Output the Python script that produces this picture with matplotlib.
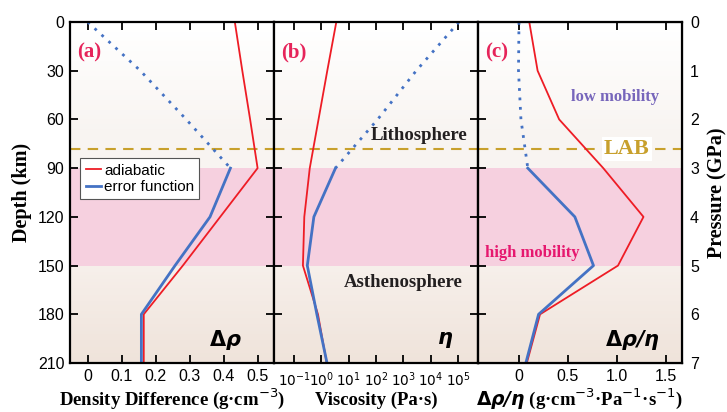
import numpy as np
import matplotlib
matplotlib.use("Agg")
import matplotlib.pyplot as plt
from matplotlib.ticker import FixedLocator, FixedFormatter

# depth levels (km)
depth = [0, 30, 60, 90, 120, 150, 180, 210]
depthTop = [0, 30, 60, 90]
depthBot = [90, 120, 150, 180, 210]

# (a) density difference, g/cm3
rhoAdiabatic = [0.433, 0.455, 0.478, 0.50, 0.39, 0.28, 0.165, 0.165]
rhoErfTop = [0.0, 0.155, 0.29, 0.42]
rhoErfBot = [0.42, 0.36, 0.257, 0.158, 0.158]

# (b) viscosity, log10(Pa s)
etaAdiabaticLog = [0.55, 0.22, -0.10, -0.42, -0.62, -0.67, -0.12, 0.20]
etaErfTopLog = [5.03, 3.47, 2.06, 0.52]
etaErfBotLog = [0.52, -0.27, -0.51, -0.16, 0.21]

# (c) mobility
mobAdiabatic = [0.105, 0.19, 0.41, 0.86, 1.27, 1.01, 0.215, 0.08]
mobErfTop = [0.0, -0.005, 0.02, 0.09]
mobErfBot = [0.09, 0.57, 0.76, 0.20, 0.07]

depthTicks = [0, 30, 60, 90, 120, 150, 180, 210]
pressureTicks = [0, 1, 2, 3, 4, 5, 6, 7]
labDepth = 78

RED = "#ee1c25"
BLUE = "#4472c4"
PINK = "#e6186f"
LABEL = "#e6245a"
GOLD = "#c8a02c"
SERIF = ["Liberation Serif", "DejaVu Serif"]
SANS = ["Liberation Sans", "DejaVu Sans"]

plt.rcParams["font.family"] = SANS
plt.rcParams["mathtext.fontset"] = "dejavusans"

fig = plt.figure(figsize=(7.27, 4.12), dpi=100)
gs = fig.add_gridspec(1, 3, left=0.0963, right=0.9377, top=0.9466,
                      bottom=0.1189, wspace=0)
axA = fig.add_subplot(gs[0])
axB = fig.add_subplot(gs[1], sharey=axA)
axC = fig.add_subplot(gs[2], sharey=axA)


def shade(ax):
    # faint gradient for lithosphere / asthenosphere, pink band between
    top0 = np.array([1.0, 1.0, 1.0])
    top1 = np.array([0.972, 0.957, 0.945])
    bot0 = np.array([0.965, 0.937, 0.918])
    bot1 = np.array([0.937, 0.890, 0.855])
    n = 30
    for i in range(n):
        f = i / (n - 1)
        c = top0 + (top1 - top0) * min(1, f * 1.3)
        ax.axhspan(90 * i / n, 90 * (i + 1) / n, color=c, lw=0, zorder=0)
        c = bot0 + (bot1 - bot0) * f
        ax.axhspan(150 + 60 * i / n, 150 + 60 * (i + 1) / n, color=c, lw=0, zorder=0)
    ax.axhspan(90, 150, color="#f6d0df", lw=0, zorder=0)
    ax.axhline(labDepth, color=GOLD, ls=(0, (5, 3.5)), lw=1.5, zorder=1)


for ax in (axA, axB, axC):
    shade(ax)

# (a)
axA.plot(rhoAdiabatic, depth, color=RED, lw=1.3, label="adiabatic", zorder=3)
axA.plot(rhoErfBot, depthBot, color=BLUE, lw=2, label="error function", zorder=3)
axA.plot(rhoErfTop, depthTop, color=BLUE, lw=2, ls=(0, (1, 2.4)), zorder=3)
axA.set_xlim(-0.052, 0.548)
axA.set_xticks([0, 0.1, 0.2, 0.3, 0.4, 0.5])
axA.set_xticklabels(["0", "0.1", "0.2", "0.3", "0.4", "0.5"])

# (b)
axB.plot(10.0 ** np.array(etaAdiabaticLog), depth, color=RED, lw=1.3, zorder=3)
axB.plot(10.0 ** np.array(etaErfBotLog), depthBot, color=BLUE, lw=2, zorder=3)
axB.plot(10.0 ** np.array(etaErfTopLog), depthTop, color=BLUE, lw=2,
         ls=(0, (1, 2.4)), zorder=3)
axB.set_xscale("log")
axB.set_xlim(10 ** -1.73, 10 ** 5.72)
decades = [-1, 0, 1, 2, 3, 4, 5]
axB.xaxis.set_major_locator(FixedLocator([10.0 ** d for d in decades]))
axB.xaxis.set_major_formatter(FixedFormatter([r"$10^{%d}$" % d for d in decades]))
axB.xaxis.set_minor_locator(FixedLocator([]))

# (c)
axC.plot(mobAdiabatic, depth, color=RED, lw=1.3, zorder=3)
axC.plot(mobErfBot, depthBot, color=BLUE, lw=2, zorder=3)
axC.plot(mobErfTop, depthTop, color=BLUE, lw=2, ls=(0, (1, 2.4)), zorder=3)
axC.set_xlim(-0.42, 1.66)
axC.set_xticks([0, 0.5, 1.0, 1.5])
axC.set_xticklabels(["0", "0.5", "1.0", "1.5"])

axA.set_ylim(210, 0)
axA.set_yticks(depthTicks)

for ax in (axA, axB, axC):
    for s in ax.spines.values():
        s.set_linewidth(1.6)
        s.set_zorder(5)
    ax.tick_params(direction="in", top=True, right=True, length=6, width=1.3,
                   labelsize=11.5, pad=4)
axB.tick_params(axis="x", labelsize=9.8, pad=5)
axB.tick_params(labelleft=False)
axC.tick_params(labelleft=False)

# pressure axis
axP = axC.twinx()
axP.set_ylim(7, 0)
axP.set_yticks(pressureTicks)
axP.tick_params(direction="in", length=0, labelsize=11.5, pad=6)
axP.set_ylabel("Pressure (GPa)", fontfamily=SERIF, fontweight="bold",
               fontsize=14.5, labelpad=6)

axA.set_ylabel("Depth (km)", fontfamily=SERIF, fontweight="bold", fontsize=14.5,
               labelpad=4)
axA.set_xlabel(r"Density Difference (g·cm$^{-3}$)", fontfamily=SERIF,
               fontweight="bold", fontsize=13.5, labelpad=2)
axB.set_xlabel("Viscosity (Pa·s)", fontfamily=SERIF, fontweight="bold",
               fontsize=13.5, labelpad=2)
axC.set_xlabel(r"$\mathbf{\Delta}\mathbfit{\rho/\eta}$ (g·cm$^{-3}$·Pa$^{-1}$·s$^{-1}$)",
               fontfamily=SERIF, fontweight="bold", fontsize=13.5, labelpad=2)

# panel tags
for ax, tag in ((axA, "(a)"), (axB, "(b)"), (axC, "(c)")):
    ax.text(0.035, 0.91, tag, transform=ax.transAxes, color=LABEL,
            fontfamily=SERIF, fontweight="bold", fontsize=15, va="center",
            ha="left", zorder=6)

axA.text(0.76, 0.067, r"$\mathbf{\Delta}\mathbfit{\rho}$", transform=axA.transAxes,
         fontsize=15, ha="center", va="center", zorder=6)
axB.text(0.84, 0.067, r"$\mathbfit{\eta}$", transform=axB.transAxes,
         fontsize=15, ha="center", va="center", zorder=6)
axC.text(0.76, 0.067, r"$\mathbf{\Delta}\mathbfit{\rho/\eta}$",
         transform=axC.transAxes, fontsize=15, ha="center", va="center", zorder=6)

axB.text(0.71, 69.6, "Lithosphere", transform=axB.get_yaxis_transform(),
         fontfamily=SERIF, fontweight="bold", fontsize=13.5, ha="center",
         va="center", color="#231f20", zorder=6)
axB.text(0.634, 160.5, "Asthenosphere", transform=axB.get_yaxis_transform(),
         fontfamily=SERIF, fontweight="bold", fontsize=13.5, ha="center",
         va="center", color="#231f20", zorder=6)
axC.text(0.675, 46, "low mobility", transform=axC.get_yaxis_transform(),
         fontfamily=SERIF, fontweight="bold", fontsize=12, ha="center",
         va="center", color="#7766bb", zorder=6)
axC.text(0.265, 142, "high mobility", transform=axC.get_yaxis_transform(),
         fontfamily=SERIF, fontweight="bold", fontsize=12, ha="center",
         va="center", color=PINK, zorder=6)
axC.text(0.73, labDepth, "LAB", transform=axC.get_yaxis_transform(),
         fontfamily=SERIF, fontweight="bold", fontsize=16, ha="center",
         va="center", color=GOLD, zorder=6,
         bbox=dict(facecolor="white", edgecolor="none", pad=1.5))

leg = axA.legend(loc="upper left", bbox_to_anchor=(0.05, 0.60), borderaxespad=0,
                 fontsize=11, handlelength=1.0, handletextpad=0.2,
                 labelspacing=0.15, borderpad=0.35, fancybox=False,
                 framealpha=1, edgecolor="#555555")
leg.get_frame().set_linewidth(0.8)
leg.set_zorder(7)

fig.savefig("out.png", dpi=100)
